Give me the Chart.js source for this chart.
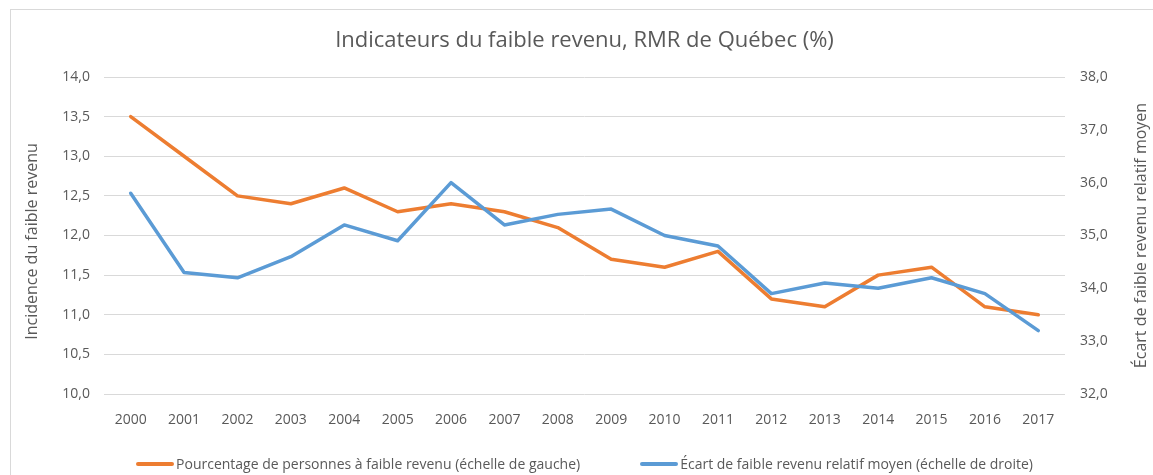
<!DOCTYPE html>
<html lang="fr">
<head>
<meta charset="utf-8">
<title>Indicateurs du faible revenu</title>
<script src="https://cdn.jsdelivr.net/npm/chart.js@4.4.1/dist/chart.umd.min.js"></script>
<style>
    html, body { margin: 0; padding: 0; background: #fff; }
    #wrap { position: relative; width: 1153px; height: 475px; overflow: hidden; font-family: "Open Sans", sans-serif; }
    #frame { position: absolute; left: 10px; top: 9px; width: 1200px; height: 500px; border-left: 1px solid #d9d9d9; border-top: 1px solid #d9d9d9; box-sizing: border-box; }
    #chart { position: absolute; left: 0; top: 0; }
    #legend { position: absolute; left: 104px; width: 961px; top: 454px; display: flex; justify-content: center; gap: 60px; font-size: 14px; color: #595959; }
    #legend .item { display: flex; align-items: center; white-space: nowrap; }
    #legend .swatch { width: 38px; height: 4px; border-radius: 2px; margin-right: 2px; }
</style>
</head>
<body>
<div id="wrap">
    <div id="frame"></div>
    <canvas id="chart" width="1153" height="475"></canvas>
    <div id="legend"></div>
</div>

<script>
// Données
const annees = ['2000', '2001', '2002', '2003', '2004', '2005', '2006', '2007', '2008',
                '2009', '2010', '2011', '2012', '2013', '2014', '2015', '2016', '2017'];

// Pourcentage de personnes à faible revenu (échelle de gauche)
const pourcentage = [13.5, 13.0, 12.5, 12.4, 12.6, 12.3, 12.4, 12.3, 12.1,
                     11.7, 11.6, 11.8, 11.2, 11.1, 11.5, 11.6, 11.1, 11.0];

// Écart de faible revenu relatif moyen (échelle de droite)
const ecart = [35.8, 34.3, 34.2, 34.6, 35.2, 34.9, 36.0, 35.2, 35.4,
               35.5, 35.0, 34.8, 33.9, 34.1, 34.0, 34.2, 33.9, 33.2];

const titre = 'Indicateurs du faible revenu, RMR de Québec (%)';
const titreGauche = 'Incidence du faible revenu';
const titreDroite = 'Écart de faible revenu relatif moyen';
const libelles = ['Pourcentage de personnes à faible revenu (échelle de gauche)',
                  'Écart de faible revenu relatif moyen (échelle de droite)'];
const couleurs = ['#ED7D31', '#5B9BD5'];

const gris = '#595959';
const police = '"Open Sans", sans-serif';
const fmt = v => Number(v).toFixed(1).replace('.', ',');

// Titres dessinés à la main (le titre de droite se lit de bas en haut)
const titresPlugin = {
    id: 'titres',
    afterDraw(chart) {
        const ctx = chart.ctx;
        const a = chart.chartArea;
        ctx.save();
        ctx.fillStyle = gris;
        ctx.textAlign = 'center';
        ctx.textBaseline = 'middle';

        ctx.font = '22px ' + police;
        ctx.fillText(titre, (a.left + a.right) / 2, 41);

        ctx.font = '16px ' + police;
        ctx.save();
        ctx.translate(32, (a.top + a.bottom) / 2 + 6);
        ctx.rotate(-Math.PI / 2);
        ctx.fillText(titreGauche, 0, 0);
        ctx.restore();

        ctx.save();
        ctx.translate(1141, (a.top + a.bottom) / 2);
        ctx.rotate(-Math.PI / 2);
        ctx.fillText(titreDroite, 0, 0);
        ctx.restore();

        ctx.restore();
    }
};

new Chart(document.getElementById('chart'), {
    type: 'line',
    data: {
        labels: annees,
        datasets: [
            {
                label: libelles[0],
                data: pourcentage,
                yAxisID: 'y',
                borderColor: couleurs[0],
                backgroundColor: couleurs[0],
                borderWidth: 3.5,
                pointRadius: 0,
                borderJoinStyle: 'round',
                borderCapStyle: 'round',
                order: 1
            },
            {
                label: libelles[1],
                data: ecart,
                yAxisID: 'y1',
                borderColor: couleurs[1],
                backgroundColor: couleurs[1],
                borderWidth: 3.5,
                pointRadius: 0,
                borderJoinStyle: 'round',
                borderCapStyle: 'round',
                order: 0
            }
        ]
    },
    options: {
        responsive: false,
        animation: false,
        layout: { padding: { top: 77, left: 0, right: 0, bottom: 0 } },
        plugins: {
            legend: { display: false },
            title: { display: false },
            tooltip: { enabled: false }
        },
        scales: {
            x: {
                offset: true,
                grid: { display: false },
                border: { display: false },
                ticks: { color: gris, font: { family: police, size: 14 }, padding: 10, maxRotation: 0 },
                afterFit: s => { s.height = 81; }
            },
            y: {
                position: 'left',
                min: 10,
                max: 14,
                ticks: { stepSize: 0.5, color: gris, font: { family: police, size: 14 }, padding: 14, callback: fmt },
                grid: { color: '#d9d9d9', lineWidth: 1, drawTicks: false },
                border: { display: false },
                afterFit: s => { s.width = 104; }
            },
            y1: {
                position: 'right',
                min: 32,
                max: 38,
                ticks: { stepSize: 1, color: gris, font: { family: police, size: 14 }, padding: 15, callback: fmt },
                grid: { drawOnChartArea: false, drawTicks: false },
                border: { display: false },
                afterFit: s => { s.width = 88; }
            }
        }
    },
    plugins: [titresPlugin]
});

// Légende en HTML
const legende = document.getElementById('legend');
libelles.forEach((txt, i) => {
    const item = document.createElement('div');
    item.className = 'item';
    item.innerHTML = '<span class="swatch" style="background:' + couleurs[i] + '"></span><span>' + txt + '</span>';
    legende.appendChild(item);
});
</script>
</body>
</html>
